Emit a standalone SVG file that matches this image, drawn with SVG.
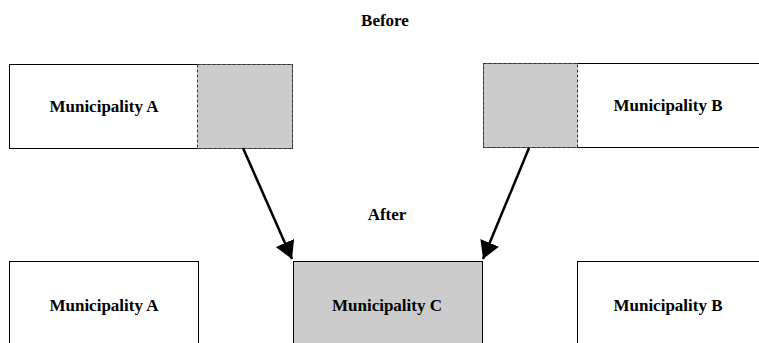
<svg xmlns="http://www.w3.org/2000/svg" width="759" height="343" viewBox="0 0 759 343">
<defs>
<style>
.box{fill:#fff;stroke:#000;stroke-width:1}
.gray{fill:#cccccc;stroke:#000;stroke-width:1}
.dash{fill:#cccccc;stroke:#333;stroke-width:1;stroke-dasharray:3,2}
.lbl{font-family:"Liberation Serif","Times New Roman",serif;font-weight:bold;font-size:17px;text-anchor:middle;dominant-baseline:central;fill:#000}
.conn{stroke:#000;stroke-width:2.5;fill:none}
</style>
<marker id="ah" markerWidth="8" markerHeight="8" refX="7" refY="4" orient="auto" markerUnits="strokeWidth">
<path d="M0,0 L7,4 L0,8 Z" fill="#000"/>
</marker>
</defs>
<rect width="759" height="343" fill="#fff"/>
<text class="lbl" x="385" y="20">Before</text>
<text class="lbl" x="387" y="214">After</text>
<g id="muniA-before">
<rect class="box" x="9.5" y="64.5" width="283" height="84"/>
<rect class="dash" x="197.5" y="64.5" width="95" height="84"/>
<text class="lbl" x="104" y="106">Municipality A</text>
</g>
<g id="muniB-before">
<rect class="box" x="483.5" y="63.5" width="280" height="84"/>
<rect class="dash" x="483.5" y="63.5" width="94" height="84"/>
<text class="lbl" x="668" y="105">Municipality B</text>
</g>
<g id="muniA-after">
<rect class="box" x="9.5" y="261.5" width="189" height="90"/>
<text class="lbl" x="104" y="305">Municipality A</text>
</g>
<g id="muniC-after">
<rect class="gray" x="293.5" y="261.5" width="189" height="90"/>
<text class="lbl" x="387" y="305">Municipality C</text>
</g>
<g id="muniB-after">
<rect class="box" x="577.5" y="261.5" width="190" height="90"/>
<text class="lbl" x="668" y="305">Municipality B</text>
</g>
<g id="connectors">
<line class="conn" x1="243" y1="148" x2="292" y2="259" marker-end="url(#ah)"/>
<line class="conn" x1="529" y1="148" x2="483" y2="259" marker-end="url(#ah)"/>
</g>
</svg>
